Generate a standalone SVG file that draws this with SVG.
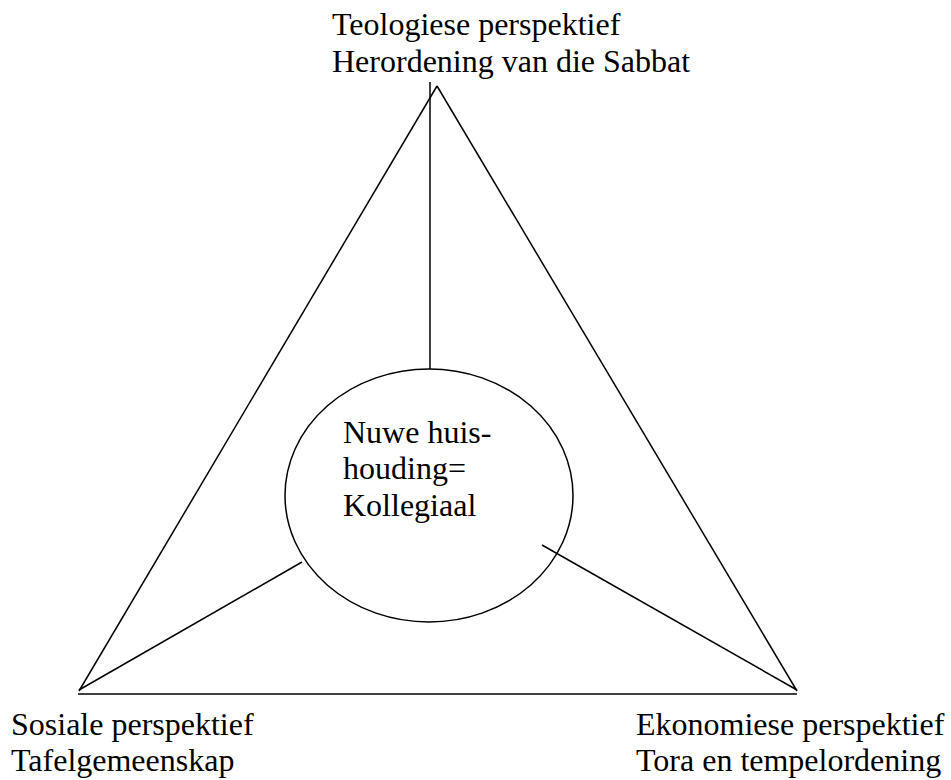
<svg xmlns="http://www.w3.org/2000/svg" width="951" height="780" viewBox="0 0 951 780">
<style>
.ln{stroke:#000;stroke-width:1.5;fill:none}
.t{font-family:"Liberation Serif","Times New Roman",serif;font-size:32px;fill:#000}
</style>
<rect width="951" height="780" fill="#fff"/>
<g id="triangle">
<line class="ln" x1="437" y1="86" x2="79" y2="691"/>
<line class="ln" x1="437" y1="86" x2="797" y2="691"/>
<line class="ln" x1="78" y1="694" x2="797" y2="694"/>
</g>
<g id="connectors">
<line class="ln" x1="430" y1="82" x2="430" y2="369"/>
<line class="ln" x1="302" y1="562" x2="79" y2="690"/>
<line class="ln" x1="542" y1="545" x2="797" y2="690"/>
</g>
<g id="center">
<ellipse class="ln" cx="429" cy="495.5" rx="144" ry="126.5"/>
<text class="t" x="343" y="443">Nuwe huis-</text>
<text class="t" x="343" y="479">houding=</text>
<text class="t" x="343" y="516">Kollegiaal</text>
</g>
<g id="top">
<text class="t" x="332" y="35">Teologiese perspektief</text>
<text class="t" x="332" y="72">Herordening van die Sabbat</text>
</g>
<g id="bottom-left">
<text class="t" x="11" y="735">Sosiale perspektief</text>
<text class="t" x="11" y="771">Tafelgemeenskap</text>
</g>
<g id="bottom-right">
<text class="t" x="636" y="735">Ekonomiese perspektief</text>
<text class="t" x="636" y="771">Tora en tempelordening</text>
</g>
</svg>
